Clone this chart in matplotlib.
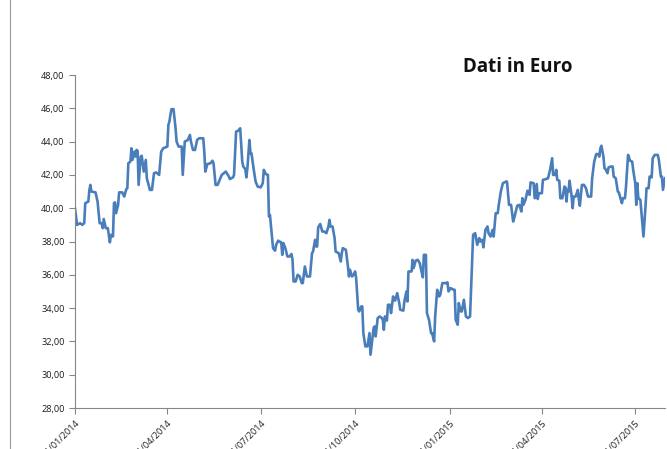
import numpy as np
import pandas as pd
import matplotlib
matplotlib.use("Agg")
import matplotlib.pyplot as plt
import matplotlib.dates as mdates
from matplotlib.ticker import FuncFormatter
from matplotlib.lines import Line2D

# days since 01/01/2014 and closing price
days = [0, 2, 5, 7, 9, 10, 13, 14, 15, 16, 20, 22, 24, 26, 27, 28, 30, 32, 34, 35,
        37, 38, 39, 40, 42, 43, 46, 48, 50, 51, 52, 54, 55, 56, 58, 59, 60, 61, 62, 64,
        65, 67, 69, 70, 73, 75, 77, 79, 82, 84, 86, 90, 91, 92, 93, 94, 96, 98, 99, 101,
        104, 105, 107, 110, 112, 113, 115, 117, 119, 121, 125, 126, 127, 129, 132, 134, 135, 137, 139, 141,
        143, 145, 147, 150, 151, 154, 155, 157, 159, 161, 163, 164, 166, 167, 168, 170, 171, 172, 174, 176,
        178, 181, 183, 184, 186, 188, 189, 190, 193, 195, 196, 198, 199, 201, 202, 203, 205, 207, 209, 211,
        212, 213, 215, 217, 219, 221, 222, 224, 225, 226, 229, 231, 232, 234, 235, 236, 237, 239, 241, 243,
        245, 247, 248, 249, 251, 253, 254, 257, 259, 260, 261, 264, 266, 267, 268, 270, 272, 273, 274, 276,
        277, 279, 280, 281, 283, 285, 287, 288, 290, 291, 292, 293, 295, 297, 299, 300, 301, 302, 304, 305,
        307, 308, 310, 311, 312, 314, 316, 317, 320, 321, 323, 324, 325, 328, 329, 330, 332, 334, 336, 337,
        339, 340, 342, 343, 345, 347, 348, 350, 351, 353, 355, 356, 358, 360, 362, 363, 364, 366, 369, 370,
        371, 373, 374, 376, 377, 379, 381, 383, 385, 387, 388, 390, 392, 394, 395, 397, 398, 400, 402, 403,
        405, 407, 408, 410, 412, 413, 415, 417, 420, 421, 423, 425, 427, 428, 431, 433, 435, 436, 437, 439,
        441, 442, 443, 444, 447, 448, 450, 451, 452, 455, 456, 459, 461, 463, 465, 466, 468, 469, 470, 472,
        473, 475, 477, 478, 479, 480, 481, 482, 484, 485, 486, 488, 490, 491, 492, 494, 496, 498, 500, 503,
        504, 506, 508, 510, 511, 512, 513, 515, 516, 517, 519, 520, 522, 524, 525, 527, 529, 530, 532, 533,
        534, 536, 537, 539, 541, 543, 544, 546, 547, 548, 549, 551, 554, 556, 557, 559, 560, 562, 563, 565,
        568, 569, 571, 572, 573, 575]

prices = [40.0, 39.0, 39.1, 39.0, 39.1, 40.3, 40.4, 41.1, 41.4, 41.0, 40.95, 40.4, 39.1, 39.1, 38.8, 39.35, 38.8, 38.8, 37.95, 38.4,
          38.3, 40.3, 40.35, 39.7, 40.2, 40.95, 40.95, 40.7, 41.15, 41.2, 42.7, 42.8, 43.6, 42.9, 43.4, 43.1, 43.5, 43.45, 41.4, 43.1,
          43.15, 42.2, 42.9, 41.8, 41.1, 41.1, 42.1, 42.15, 42.0, 43.4, 43.6, 43.7, 45.0, 45.2, 45.6, 45.95, 45.95, 44.8, 44.0, 43.7,
          43.7, 42.0, 44.0, 44.1, 44.4, 44.0, 43.5, 43.5, 44.1, 44.2, 44.2, 43.4, 42.2, 42.65, 42.7, 42.85, 42.7, 41.4, 41.4, 41.7,
          42.0, 42.1, 42.2, 41.9, 41.75, 41.85, 42.0, 44.6, 44.65, 44.8, 42.8, 42.5, 42.35, 41.85, 42.4, 44.1, 43.3, 43.3, 42.4, 41.6,
          41.3, 41.25, 41.5, 42.3, 42.05, 42.0, 39.5, 39.6, 37.6, 37.45, 37.8, 38.05, 38.0, 37.95, 37.2, 37.9, 37.6, 37.1, 37.1, 37.25,
          36.9, 35.6, 35.6, 36.0, 35.9, 35.5, 35.5, 36.5, 36.2, 35.9, 35.9, 37.3, 37.4, 38.1, 37.7, 37.7, 38.85, 39.05, 38.6, 38.6,
          38.5, 38.9, 39.3, 38.9, 38.9, 38.2, 37.4, 37.3, 36.8, 37.3, 37.6, 37.5, 36.5, 35.9, 36.3, 35.9, 36.05, 36.2, 35.8, 33.9,
          33.8, 34.1, 34.1, 32.5, 31.7, 31.7, 32.5, 31.2, 32.3, 32.8, 32.9, 32.3, 33.4, 33.5, 33.4, 33.3, 32.7, 33.5, 33.25, 34.2,
          34.2, 33.7, 34.7, 34.5, 34.45, 34.9, 34.3, 33.9, 33.85, 34.4, 35.0, 34.4, 36.2, 36.2, 36.9, 36.4, 36.85, 36.9, 36.7, 36.4,
          35.85, 37.2, 37.2, 33.7, 33.3, 32.5, 32.5, 32.0, 33.5, 35.1, 34.7, 34.8, 35.5, 35.5, 35.5, 35.55, 35.0, 35.2, 35.1, 35.1,
          33.3, 33.0, 34.3, 33.8, 33.8, 34.5, 33.5, 33.4, 33.5, 36.7, 38.4, 38.5, 37.8, 38.2, 38.0, 38.1, 37.65, 38.7, 38.9, 38.5,
          38.3, 38.7, 38.3, 39.7, 39.7, 40.2, 41.0, 41.5, 41.6, 41.6, 40.2, 40.2, 39.2, 39.4, 40.15, 40.2, 39.8, 40.6, 40.2, 40.5,
          41.05, 40.9, 40.8, 41.55, 41.5, 40.6, 41.45, 40.55, 40.9, 40.9, 41.7, 41.75, 41.8, 42.3, 43.0, 42.0, 42.0, 42.3, 41.7, 41.65,
          40.6, 40.6, 41.3, 41.25, 40.4, 41.1, 41.0, 41.65, 40.7, 40.0, 40.7, 40.7, 41.1, 40.55, 40.15, 41.4, 41.4, 41.2, 40.7, 40.7,
          41.8, 42.8, 43.25, 43.25, 43.1, 43.6, 43.75, 43.1, 42.4, 42.35, 42.1, 42.45, 42.5, 42.5, 41.9, 41.8, 41.0, 40.95, 40.5, 40.3,
          40.6, 40.6, 41.3, 43.2, 42.85, 42.8, 42.3, 41.5, 40.2, 41.5, 40.6, 40.5, 38.3, 40.1, 41.2, 41.2, 41.9, 41.85, 43.0, 43.2,
          43.2, 42.9, 41.9, 41.9, 41.1, 41.8]

tick_dates = ["2014-01-01", "2014-04-01", "2014-07-01", "2014-10-01",
              "2015-01-01", "2015-04-01", "2015-07-01"]
title = "Dati in Euro"

start = pd.Timestamp("2014-01-01")
dates = start + pd.to_timedelta(days, unit="D")

plt.rcParams['font.family'] = ['Open Sans', 'DejaVu Sans']

fig = plt.figure(figsize=(6.67, 4.49), dpi=100)
ax = fig.add_axes([75/667, 1-408/449, 590/667, 333/449])

ax.plot(dates, prices, color="#4A7EBB", lw=1.9, solid_joinstyle="round")

ax.set_ylim(28, 48)
ax.set_yticks(np.arange(28, 49, 2))
ax.yaxis.set_major_formatter(FuncFormatter(lambda v, p: f"{v:.2f}".replace(".", ",")))
ax.set_xlim(dates[0], dates[-1])
ax.set_xticks(pd.to_datetime(tick_dates))
ax.xaxis.set_major_formatter(mdates.DateFormatter("%d/%m/%Y"))

for s in ["top", "right"]:
    ax.spines[s].set_visible(False)
for s in ["left", "bottom"]:
    ax.spines[s].set_color("#868686")
    ax.spines[s].set_linewidth(0.8)

ax.tick_params(axis="both", colors="#868686", length=4, width=0.8, labelsize=6.6, labelcolor="#1a1a1a")
plt.setp(ax.get_xticklabels(), rotation=45, ha="right", rotation_mode="anchor")

fig.text(518/667, 1-67/449, title, ha="center", va="center", fontsize=13.5, fontweight="bold", color="#111111")

# chart area border on the left
fig.add_artist(Line2D([10/667, 10/667], [0, 1], color="#9a9a9a", lw=0.8, transform=fig.transFigure))

fig.savefig("out.png", dpi=100)
